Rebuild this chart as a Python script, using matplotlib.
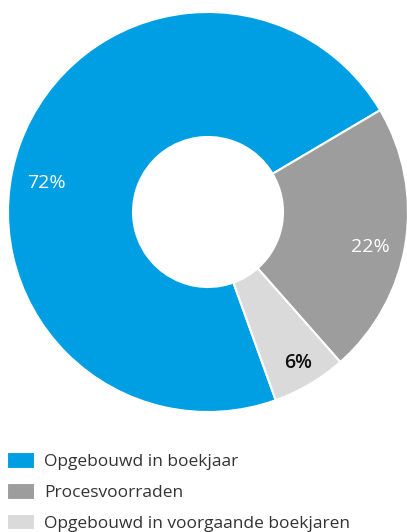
import numpy as np
import matplotlib.pyplot as plt

labels = ["Opgebouwd in boekjaar", "Procesvoorraden", "Opgebouwd in voorgaande boekjaren"]
values = [72, 22, 6]
colors = ["#009fe3", "#9d9d9d", "#dadada"]
pct_colors = ["white", "white", "#111111"]

plt.rcParams["font.family"] = ["Open Sans", "DejaVu Sans"]

fig = plt.figure(figsize=(4.07, 5.32), dpi=100)
ax = fig.add_axes([8 / 407, 120 / 532, 400 / 407, 400 / 532])

wedges, _ = ax.pie(values, colors=colors, startangle=289.8, counterclock=False,
                   radius=1, wedgeprops=dict(width=0.625, edgecolor="white", linewidth=1.5))

# percentage labels, placed along each wedge's mid angle
shift = [9.5, -3, 0]
radii = [0.82, 0.83, 0.88]
for w, v, c, s, r in zip(wedges, values, pct_colors, shift, radii):
    mid = np.deg2rad((w.theta1 + w.theta2) / 2 + s)
    ax.text(r * np.cos(mid), r * np.sin(mid), f"{v}%", color=c, fontsize=14,
            ha="center", va="center", fontweight="semibold" if c != "white" else "normal")

ax.set_xlim(-1, 1)
ax.set_ylim(-1, 1)
ax.set_aspect("equal")
ax.axis("off")

fig.legend(wedges, labels, loc="upper left", bbox_to_anchor=(0.018, 0.15),
           frameon=False, fontsize=12.5, handlelength=1.6, handleheight=1.1,
           handletextpad=0.5, labelspacing=0.72, labelcolor="#333333",
           borderaxespad=0.0, borderpad=0.0)

fig.savefig("out.png", dpi=100)
